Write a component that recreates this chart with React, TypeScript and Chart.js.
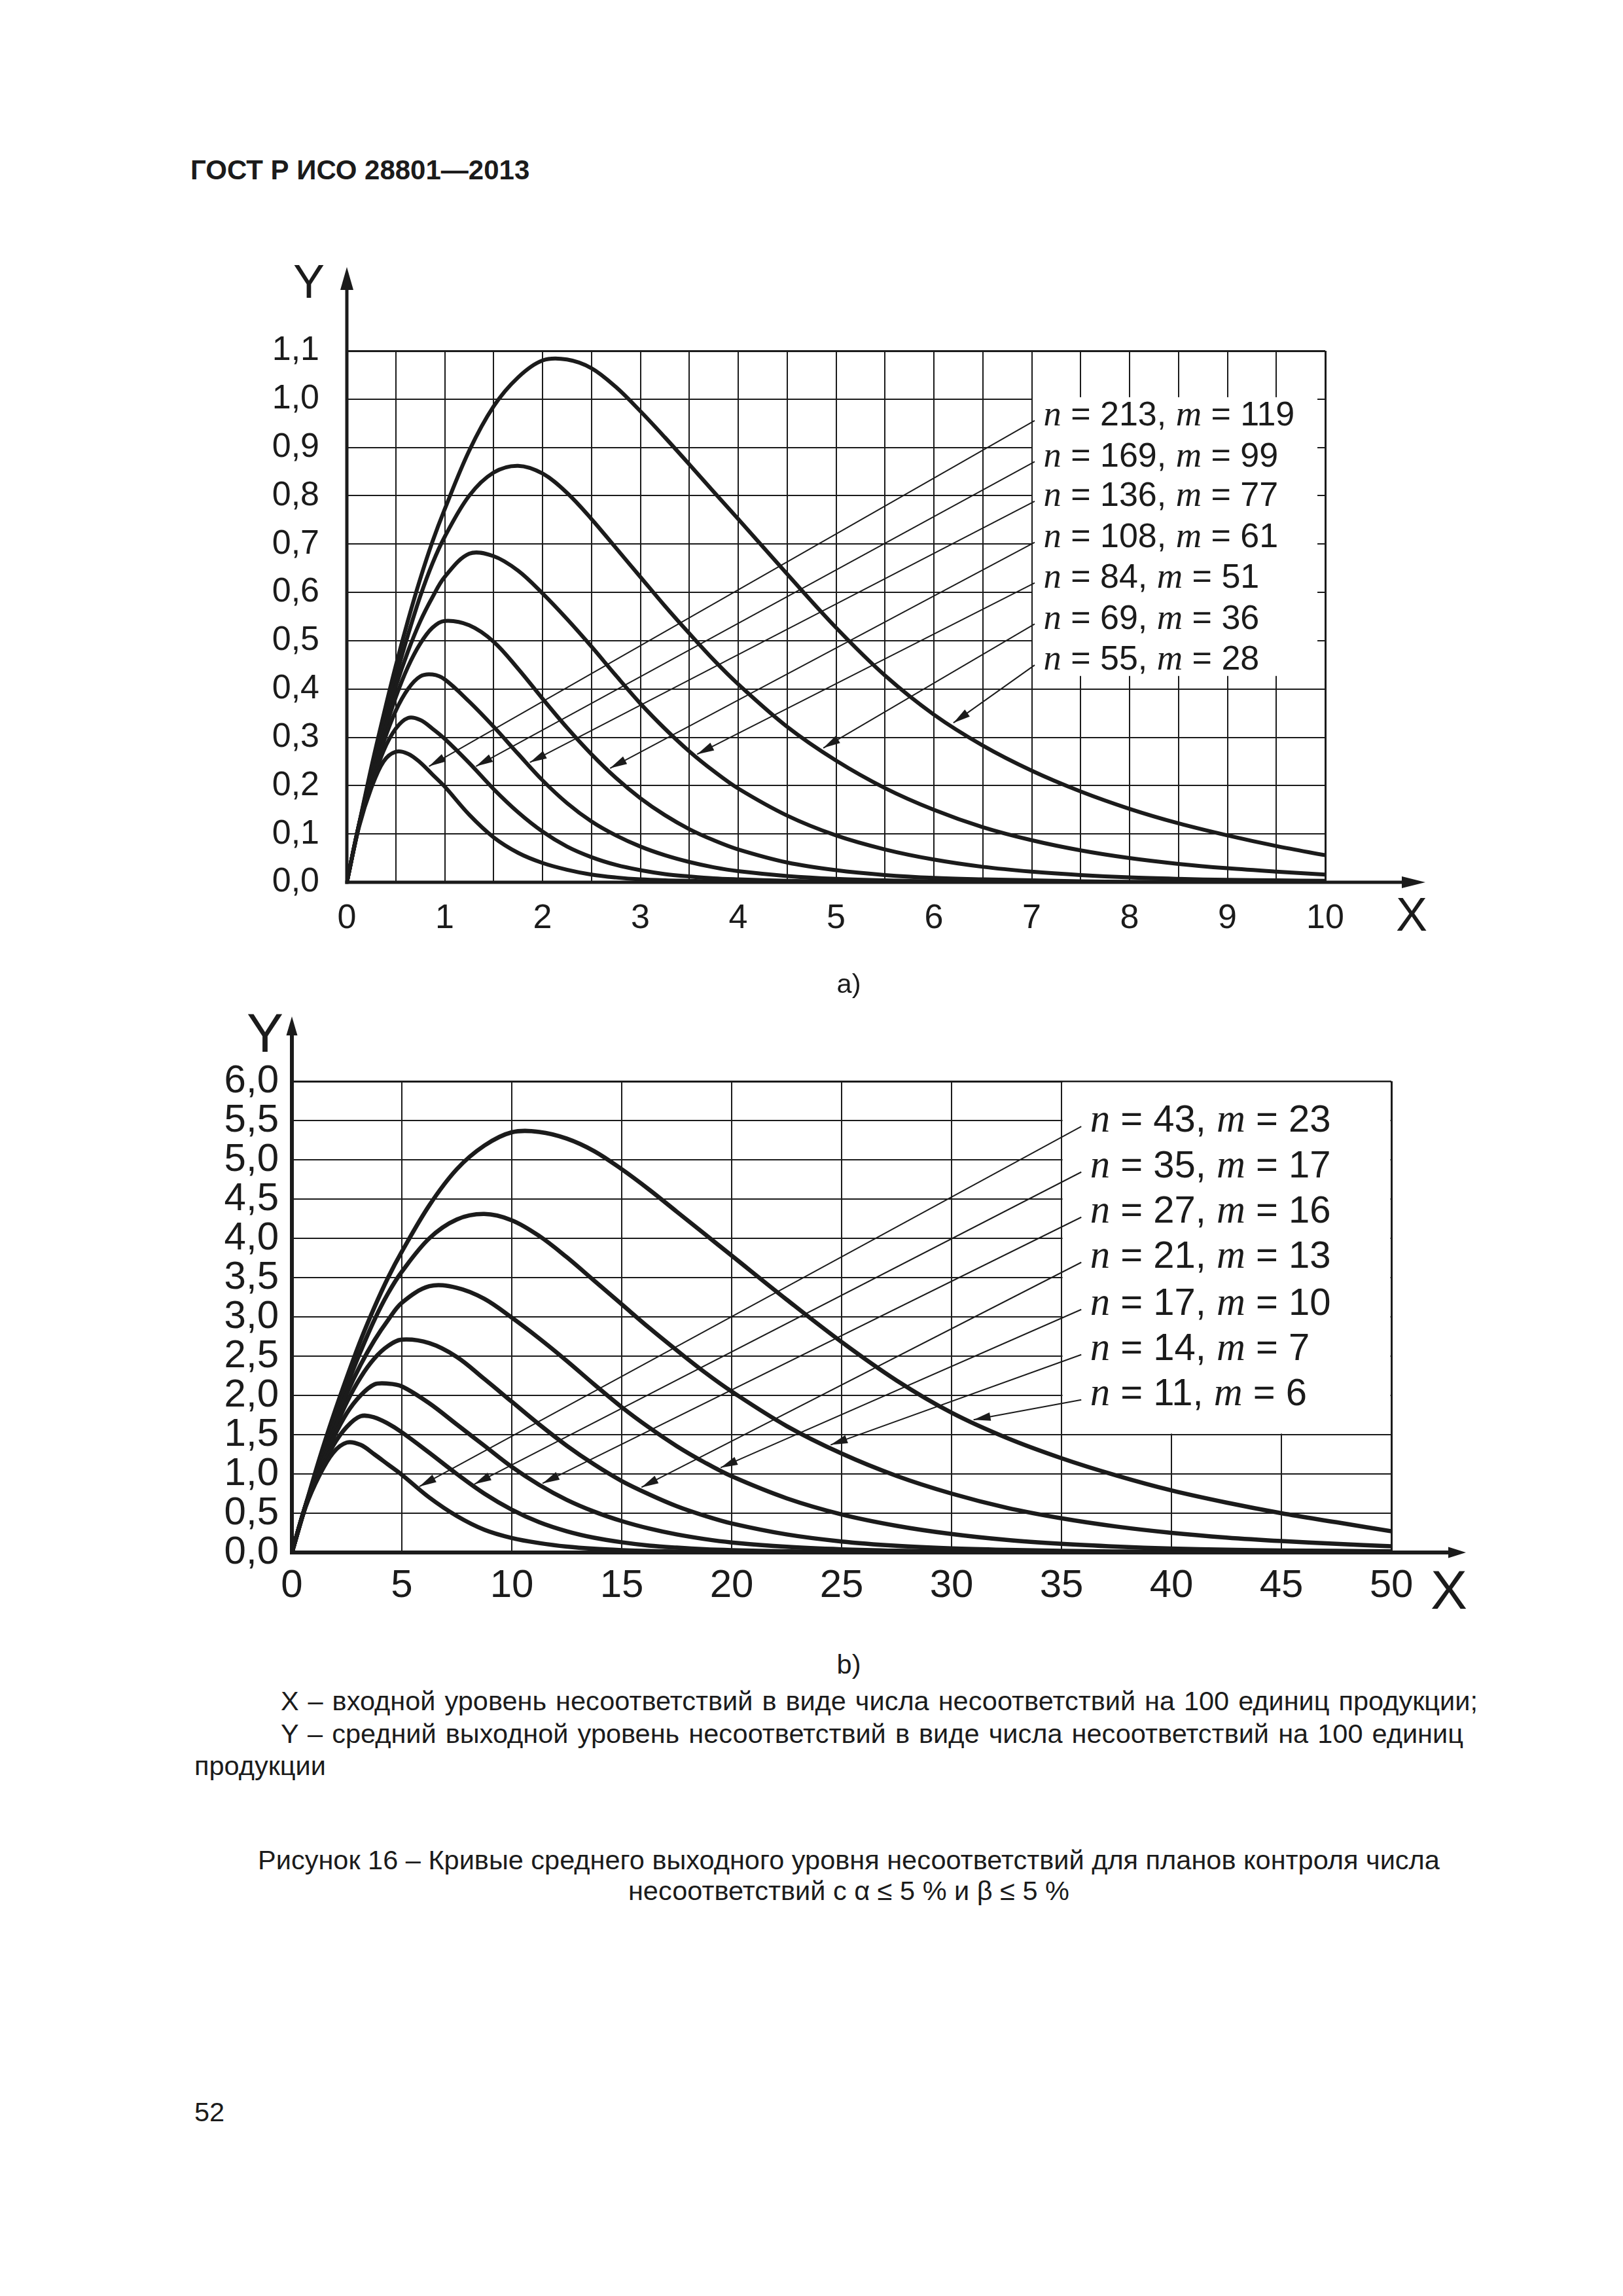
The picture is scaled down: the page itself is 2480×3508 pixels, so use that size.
import React, { useEffect, useRef } from 'react';
import { Chart, registerables } from 'chart.js';

Chart.register(...registerables);

const SANS = '"Liberation Sans", Arial, Helvetica, sans-serif';
const SERIF = '"Liberation Serif", "Times New Roman", serif';
const INK = '#1b1b1b';

// ---------------- Figure a) : X 0..10, Y 0..1,1 ----------------
const xA = [0, 0.125, 0.25, 0.375, 0.5, 0.625, 0.75, 0.875, 1, 1.25, 1.5, 1.75, 2, 2.25, 2.5, 2.75, 3, 3.25, 3.5, 3.75, 4, 4.5, 5, 5.5, 6, 6.5, 7, 7.5, 8, 8.5, 9, 9.5, 10];
const aoqA_213_119 = [0, 0.115, 0.195, 0.25, 0.27, 0.266, 0.248, 0.223, 0.198, 0.14, 0.093, 0.061, 0.04, 0.026, 0.016, 0.01, 0.006, 0.004, 0.003, 0.002, 0.001, 0, 0, 0, 0, 0, 0, 0, 0, 0, 0, 0, 0];
const aoqA_169_99 = [0, 0.118, 0.2, 0.272, 0.318, 0.34, 0.336, 0.318, 0.297, 0.247, 0.193, 0.145, 0.105, 0.074, 0.052, 0.036, 0.025, 0.017, 0.012, 0.008, 0.006, 0.003, 0.001, 0, 0, 0, 0, 0, 0, 0, 0, 0, 0];
const aoqA_136_77 = [0, 0.12, 0.21, 0.29, 0.355, 0.4, 0.426, 0.43, 0.42, 0.374, 0.322, 0.266, 0.211, 0.164, 0.126, 0.097, 0.074, 0.056, 0.042, 0.031, 0.023, 0.013, 0.007, 0.004, 0.002, 0.001, 0.001, 0, 0, 0, 0, 0, 0];
const aoqA_108_61 = [0, 0.12, 0.215, 0.305, 0.383, 0.446, 0.494, 0.527, 0.541, 0.532, 0.498, 0.442, 0.38, 0.32, 0.265, 0.216, 0.174, 0.139, 0.11, 0.087, 0.068, 0.041, 0.025, 0.015, 0.009, 0.006, 0.004, 0.002, 0.001, 0.001, 0, 0, 0];
const aoqA_84_51 = [0, 0.12, 0.222, 0.32, 0.405, 0.478, 0.54, 0.59, 0.632, 0.68, 0.675, 0.645, 0.598, 0.545, 0.488, 0.428, 0.37, 0.318, 0.271, 0.23, 0.194, 0.138, 0.097, 0.068, 0.047, 0.032, 0.022, 0.015, 0.01, 0.007, 0.005, 0.004, 0.003];
const aoqA_69_36 = [0, 0.12, 0.23, 0.332, 0.425, 0.512, 0.592, 0.66, 0.715, 0.8, 0.848, 0.862, 0.846, 0.806, 0.752, 0.692, 0.632, 0.572, 0.515, 0.46, 0.41, 0.322, 0.252, 0.195, 0.15, 0.114, 0.087, 0.066, 0.05, 0.038, 0.029, 0.022, 0.016];
const aoqA_55_28 = [0, 0.12, 0.238, 0.346, 0.448, 0.542, 0.628, 0.705, 0.772, 0.893, 0.985, 1.045, 1.08, 1.082, 1.064, 1.025, 0.975, 0.921, 0.865, 0.808, 0.752, 0.638, 0.527, 0.428, 0.347, 0.283, 0.231, 0.188, 0.152, 0.122, 0.097, 0.075, 0.056];
const planNA = [213, 169, 136, 108, 84, 69, 55];
const planMA = [119, 99, 77, 61, 51, 36, 28];
const labelRowsA = [0.971, 0.886, 0.804, 0.719, 0.635, 0.55, 0.465];
const arrowTipXA = [0.84, 1.32, 1.87, 2.69, 3.58, 4.87, 6.2];
const arrowTipYA = [0.24, 0.24, 0.248, 0.236, 0.265, 0.278, 0.33];

// ---------------- Figure b) : X 0..50, Y 0..6,0 ----------------
const xB = [0, 0.625, 1.25, 1.875, 2.5, 3.125, 3.75, 4.375, 5, 6.25, 7.5, 8.75, 10, 11.25, 12.5, 13.75, 15, 16.25, 17.5, 18.75, 20, 22.5, 25, 27.5, 30, 32.5, 35, 37.5, 40, 42.5, 45, 47.5, 50];
const aoqB_43_23 = [0, 0.58, 0.98, 1.27, 1.4, 1.37, 1.25, 1.12, 0.99, 0.7, 0.465, 0.29, 0.185, 0.12, 0.075, 0.047, 0.03, 0.019, 0.012, 0.008, 0.005, 0.002, 0.001, 0, 0, 0, 0, 0, 0, 0, 0, 0, 0];
const aoqB_35_17 = [0, 0.59, 1.0, 1.36, 1.6, 1.735, 1.72, 1.64, 1.53, 1.27, 1.0, 0.75, 0.545, 0.385, 0.27, 0.187, 0.13, 0.088, 0.062, 0.042, 0.03, 0.015, 0.006, 0.002, 0.001, 0, 0, 0, 0, 0, 0, 0, 0];
const aoqB_27_16 = [0, 0.6, 1.05, 1.45, 1.775, 2.0, 2.14, 2.15, 2.115, 1.9, 1.63, 1.36, 1.09, 0.86, 0.67, 0.52, 0.4, 0.305, 0.23, 0.172, 0.128, 0.072, 0.04, 0.022, 0.012, 0.006, 0.003, 0.002, 0.001, 0, 0, 0, 0];
const aoqB_21_13 = [0, 0.6, 1.075, 1.52, 1.915, 2.23, 2.47, 2.63, 2.71, 2.665, 2.49, 2.21, 1.92, 1.63, 1.36, 1.12, 0.91, 0.74, 0.59, 0.47, 0.37, 0.23, 0.14, 0.085, 0.052, 0.033, 0.021, 0.013, 0.008, 0.005, 0.003, 0.002, 0.001];
const aoqB_17_10 = [0, 0.6, 1.11, 1.6, 2.025, 2.39, 2.7, 2.96, 3.18, 3.39, 3.37, 3.23, 2.99, 2.725, 2.44, 2.14, 1.85, 1.59, 1.355, 1.15, 0.97, 0.69, 0.485, 0.34, 0.235, 0.16, 0.11, 0.075, 0.05, 0.035, 0.025, 0.02, 0.015];
const aoqB_14_7 = [0, 0.6, 1.15, 1.66, 2.125, 2.56, 2.96, 3.3, 3.575, 4.0, 4.24, 4.31, 4.23, 4.03, 3.76, 3.46, 3.16, 2.86, 2.575, 2.3, 2.05, 1.61, 1.26, 0.975, 0.75, 0.57, 0.435, 0.33, 0.25, 0.19, 0.145, 0.11, 0.08];
const aoqB_11_6 = [0, 0.6, 1.19, 1.73, 2.23, 2.7, 3.12, 3.5, 3.83, 4.42, 4.88, 5.18, 5.35, 5.355, 5.27, 5.11, 4.88, 4.62, 4.34, 4.06, 3.78, 3.22, 2.68, 2.19, 1.78, 1.46, 1.2, 0.98, 0.79, 0.635, 0.5, 0.385, 0.27];
const planNB = [43, 35, 27, 21, 17, 14, 11];
const planMB = [23, 17, 16, 13, 10, 7, 6];
const labelRowsB = [5.53, 4.95, 4.375, 3.8, 3.2, 2.625, 2.05];
const arrowTipXB = [5.8, 8.3, 11.4, 15.9, 19.5, 24.5, 31.0];
const arrowTipYB = [0.84, 0.87, 0.88, 0.83, 1.08, 1.37, 1.69];

type Panel = {
  left: number; top: number; w: number; h: number;
  padding: { left: number; right: number; top: number; bottom: number };
  yAxisW: number; xAxisH: number;
  xMax: number; yMax: number; xGridStep: number; xLabelStep: number; yStep: number;
  tickFont: number; xTickPad: number; yTickPad: number;
  xs: number[]; series: number[][]; ns: number[]; ms: number[];
  curveW: number; axisW: number;
  box: [number, number, number, number];
  rows: number[]; textX: number; leaderX: number; tipX: number[]; tipY: number[]; legendFont: number;
  yArrow: [number, number, number]; xArrow: [number, number, number];
  axisLabelFont: number; yLabel: [number, number]; xLabel: [number, number];
};

const panelA: Panel = {
  left: 380, top: 380, w: 1850, h: 1100,
  padding: { left: 0, right: 205, top: 156, bottom: 32 },
  yAxisW: 150, xAxisH: 100,
  xMax: 10, yMax: 1.1, xGridStep: 0.5, xLabelStep: 1, yStep: 0.1,
  tickFont: 52, xTickPad: 24, yTickPad: 42,
  xs: xA,
  series: [aoqA_213_119, aoqA_169_99, aoqA_136_77, aoqA_108_61, aoqA_84_51, aoqA_69_36, aoqA_55_28],
  ns: planNA, ms: planMA,
  curveW: 6, axisW: 5,
  box: [7.0, 9.93, 0.425, 1.006],
  rows: labelRowsA, textX: 7.12, leaderX: 7.03, tipX: arrowTipXA, tipY: arrowTipYA, legendFont: 52,
  yArrow: [128, 35, 10], xArrow: [153, 36, 9],
  axisLabelFont: 72, yLabel: [58, 81], xLabel: [132, 74],
};

const panelB: Panel = {
  left: 330, top: 1520, w: 1960, h: 960,
  padding: { left: 0, right: 164, top: 132, bottom: 28 },
  yAxisW: 116, xAxisH: 80,
  xMax: 50, yMax: 6, xGridStep: 5, xLabelStep: 5, yStep: 0.5,
  tickFont: 60, xTickPad: 15, yTickPad: 20,
  xs: xB,
  series: [aoqB_43_23, aoqB_35_17, aoqB_27_16, aoqB_21_13, aoqB_17_10, aoqB_14_7, aoqB_11_6],
  ns: planNB, ms: planMB,
  curveW: 6.5, axisW: 6,
  box: [35, 50, 1.5, 6.0],
  rows: labelRowsB, textX: 36.3, leaderX: 35.9, tipX: arrowTipXB, tipY: arrowTipYB, legendFont: 58,
  yArrow: [99, 29, 8.5], xArrow: [114, 27, 8.5],
  axisLabelFont: 84, yLabel: [41, 45], xLabel: [88, 86],
};

function arrowHead(ctx: CanvasRenderingContext2D, fx: number, fy: number, tx: number, ty: number, len: number, half: number) {
  const a = Math.atan2(ty - fy, tx - fx);
  const bx = tx - Math.cos(a) * len;
  const by = ty - Math.sin(a) * len;
  const nx = -Math.sin(a) * half;
  const ny = Math.cos(a) * half;
  ctx.beginPath();
  ctx.moveTo(tx, ty);
  ctx.lineTo(bx + nx, by + ny);
  ctx.lineTo(bx - nx, by - ny);
  ctx.closePath();
  ctx.fill();
}

function annotations(p: Panel) {
  return {
    id: 'panelAnnotations',
    beforeDatasetsDraw(chart: any) {
      const { ctx, scales } = chart;
      const x = scales.x, y = scales.y;
      const [bx0, bx1, by0, by1] = p.box;
      const l = x.getPixelForValue(bx0) + 1.5;
      const r = x.getPixelForValue(bx1) - 1.5;
      const t = y.getPixelForValue(by1) + 1.5;
      const b = y.getPixelForValue(by0) - 1.5;
      ctx.save();
      ctx.fillStyle = '#ffffff';
      ctx.fillRect(l, t, r - l, b - t);
      ctx.restore();
    },
    afterDatasetsDraw(chart: any) {
      const { ctx, scales } = chart;
      const x = scales.x, y = scales.y;
      const x0 = x.getPixelForValue(0);
      const y0 = y.getPixelForValue(0);
      const yTop = y.getPixelForValue(p.yMax);
      const xRight = x.getPixelForValue(p.xMax);
      ctx.save();
      ctx.strokeStyle = INK;
      ctx.fillStyle = INK;
      ctx.lineCap = 'butt';

      const [yExtra, yLen, yHalf] = p.yArrow;
      const [xExtra, xLen, xHalf] = p.xArrow;
      ctx.lineWidth = p.axisW;
      ctx.beginPath();
      ctx.moveTo(x0, y0 + p.axisW / 2);
      ctx.lineTo(x0, yTop - yExtra + yLen - 1);
      ctx.stroke();
      arrowHead(ctx, x0, y0, x0, yTop - yExtra, yLen, yHalf);
      ctx.beginPath();
      ctx.moveTo(x0 - p.axisW / 2, y0);
      ctx.lineTo(xRight + xExtra - xLen + 1, y0);
      ctx.stroke();
      arrowHead(ctx, x0, y0, xRight + xExtra, y0, xLen, xHalf);

      ctx.textAlign = 'center';
      ctx.textBaseline = 'alphabetic';
      ctx.font = `${p.axisLabelFont}px ${SANS}`;
      ctx.fillText('Y', x0 - p.yLabel[0], yTop - p.yLabel[1]);
      ctx.fillText('X', xRight + p.xLabel[0], y0 + p.xLabel[1]);

      const fs = p.legendFont;
      for (let i = 0; i < p.rows.length; i++) {
        const rowPx = y.getPixelForValue(p.rows[i]);
        const sx = x.getPixelForValue(p.leaderX);
        const sy = rowPx + fs * 0.22;
        const tx = x.getPixelForValue(p.tipX[i]);
        const ty = y.getPixelForValue(p.tipY[i]);
        ctx.lineWidth = 2;
        ctx.beginPath();
        ctx.moveTo(sx, sy);
        ctx.lineTo(tx, ty);
        ctx.stroke();
        arrowHead(ctx, sx, sy, tx, ty, 26, 6.5);

        ctx.textAlign = 'left';
        ctx.textBaseline = 'alphabetic';
        let cx = x.getPixelForValue(p.textX);
        const base = rowPx + fs * 0.36;
        const parts: [string, string][] = [
          ['n', `italic ${fs * 1.05}px ${SERIF}`],
          [` = ${p.ns[i]}, `, `${fs}px ${SANS}`],
          ['m', `italic ${fs * 1.05}px ${SERIF}`],
          [` = ${p.ms[i]}`, `${fs}px ${SANS}`],
        ];
        for (const [txt, font] of parts) {
          ctx.font = font;
          ctx.fillText(txt, cx, base);
          cx += ctx.measureText(txt).width;
        }
      }
      ctx.restore();
    },
  };
}

function buildConfig(p: Panel): any {
  const datasets = p.series.map((ys, i) => ({
    label: `n = ${p.ns[i]}, m = ${p.ms[i]}`,
    data: p.xs.map((xv, j) => ({ x: xv, y: ys[j] })),
    borderColor: INK,
    backgroundColor: INK,
    borderWidth: p.curveW,
    pointRadius: 0,
    fill: false,
    tension: 0.35,
    cubicInterpolationMode: 'default',
    borderCapStyle: 'round',
    borderJoinStyle: 'round',
  }));
  const lastW = (c: any) => (c.index === c.scale.ticks.length - 1 ? 3 : 2);
  return {
    type: 'line',
    data: { datasets },
    options: {
      responsive: false,
      animation: false,
      devicePixelRatio: 1,
      events: [],
      layout: { padding: p.padding },
      plugins: { legend: { display: false }, tooltip: { enabled: false }, title: { display: false } },
      scales: {
        x: {
          type: 'linear',
          min: 0,
          max: p.xMax,
          afterFit: (s: any) => { s.height = p.xAxisH; },
          border: { display: false },
          grid: { color: INK, lineWidth: lastW, drawTicks: false },
          ticks: {
            stepSize: p.xGridStep,
            autoSkip: false,
            maxRotation: 0,
            minRotation: 0,
            padding: p.xTickPad,
            color: INK,
            font: { family: SANS, size: p.tickFont },
            callback: (v: any) => {
              const q = Number(v) / p.xLabelStep;
              return Math.abs(q - Math.round(q)) < 1e-6 ? String(Math.round(Number(v))) : '';
            },
          },
        },
        y: {
          type: 'linear',
          min: 0,
          max: p.yMax,
          afterFit: (s: any) => { s.width = p.yAxisW; },
          border: { display: false },
          grid: { color: INK, lineWidth: lastW, drawTicks: false },
          ticks: {
            stepSize: p.yStep,
            autoSkip: false,
            padding: p.yTickPad,
            color: INK,
            font: { family: SANS, size: p.tickFont },
            callback: (v: any) => Number(v).toFixed(1).replace('.', ','),
          },
        },
      },
    },
    plugins: [annotations(p)],
  };
}

function PanelChart({ p }: { p: Panel }) {
  const ref = useRef<HTMLCanvasElement>(null);
  useEffect(() => {
    if (!ref.current) return;
    const chart = new Chart(ref.current, buildConfig(p));
    return () => chart.destroy();
  }, [p]);
  return (
    <canvas
      ref={ref}
      width={p.w}
      height={p.h}
      style={{ position: 'absolute', left: p.left, top: p.top, width: p.w, height: p.h }}
    />
  );
}

const T = (F: number, baseline: number) => baseline - 0.8465 * F;

export default function App() {
  const body = 41.5;
  const common: React.CSSProperties = { position: 'absolute', fontSize: body, lineHeight: `${body}px`, whiteSpace: 'nowrap' };
  return (
    <div
      style={{
        position: 'absolute', left: 0, top: 0, width: 2480, height: 3508,
        background: '#ffffff', color: INK, fontFamily: SANS, overflow: 'hidden',
      }}
    >
      <div style={{ position: 'absolute', left: 291, top: T(42, 275), fontSize: 42, lineHeight: '42px', fontWeight: 'bold', whiteSpace: 'nowrap' }}>
        ГОСТ Р ИСО 28801—2013
      </div>

      <PanelChart p={panelA} />
      <div style={{ ...common, left: 1097, width: 400, textAlign: 'center', top: T(body, 1517) }}>a)</div>

      <PanelChart p={panelB} />
      <div style={{ ...common, left: 1097, width: 400, textAlign: 'center', top: T(body, 2557) }}>b)</div>

      <div style={{ ...common, left: 429, width: 1829, top: T(body, 2613), textAlign: 'justify', textAlignLast: 'justify', whiteSpace: 'normal' }}>
        X – входной уровень несоответствий в виде числа несоответствий на 100 единиц продукции;
      </div>
      <div style={{ ...common, left: 429, width: 1807, top: T(body, 2663), textAlign: 'justify', textAlignLast: 'justify', whiteSpace: 'normal' }}>
        Y – средний выходной уровень несоответствий в виде числа несоответствий на 100 единиц
      </div>
      <div style={{ ...common, left: 297, top: T(body, 2712) }}>продукции</div>

      <div style={{ ...common, left: 297, width: 2000, textAlign: 'center', top: T(body, 2856) }}>
        Рисунок 16 – Кривые среднего выходного уровня несоответствий для планов контроля числа
      </div>
      <div style={{ ...common, left: 297, width: 2000, textAlign: 'center', top: T(body, 2903) }}>
        несоответствий с α ≤ 5 % и β ≤ 5 %
      </div>

      <div style={{ ...common, left: 297, top: T(body, 3241) }}>52</div>
    </div>
  );
}
